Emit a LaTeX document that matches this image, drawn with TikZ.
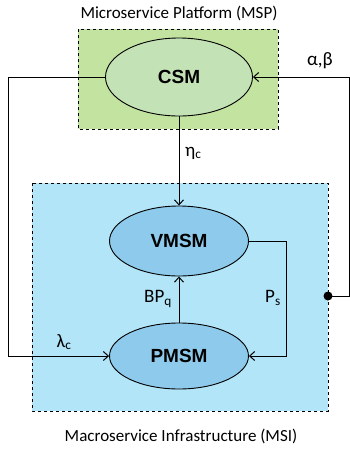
\documentclass[tikz,border=0pt]{standalone}
\usepackage{fontspec}
\setmainfont{Carlito}
\newfontfamily\boldsans{Liberation Sans}
\usetikzlibrary{arrows.meta,shapes.geometric}
\definecolor{mspfill}{HTML}{C3E3A0}
\definecolor{csmfill}{HTML}{C3E2B5}
\definecolor{msifill}{HTML}{B3E5F8}
\definecolor{vmfill}{HTML}{8ECAEB}
\tikzset{
  region/.style={draw=black, dashed, line width=0.7pt},
  statenode/.style={ellipse, draw=black, line width=0.9pt, inner sep=0pt, font=\boldsans\bfseries\fontsize{19}{21}\selectfont},
  link/.style={draw=black, line width=1pt},
  arr/.style={link, -{Straight Barb[length=5pt,width=9pt]}},
  lbl/.style={font=\fontsize{19}{21}\selectfont, inner sep=0pt},
  caption/.style={font=\fontsize{17}{19}\selectfont, inner sep=0pt}
}
\begin{document}
\begin{tikzpicture}[x=1pt,y=-1pt]
\useasboundingbox (0,0) rectangle (350,451);
\fill[white] (0,0) rectangle (350,451);
\node[caption] (msptitle) at (179,13) {Microservice Platform (MSP)};
\node[caption] (msititle) at (181,436) {Macroservice Infrastructure (MSI)};
\filldraw[region, fill=mspfill] (78,29) rectangle (278,129);
\filldraw[region, fill=msifill] (32,183) rectangle (328,411);
\node[statenode, fill=csmfill, minimum width=147pt, minimum height=78pt] (csm) at (179,77) {CSM};
\node[statenode, fill=vmfill, minimum width=139pt, minimum height=70pt] (vmsm) at (179,241) {VMSM};
\node[statenode, fill=vmfill, minimum width=139pt, minimum height=66pt] (pmsm) at (179,356) {PMSM};
% CSM -> VMSM
\draw[arr] (csm.south) -- (vmsm.north);
\node[lbl, anchor=west] (eta) at (185,153) {η\textsubscript{c}};
% PMSM -> VMSM
\draw[arr] (pmsm.north) -- (vmsm.south);
\node[lbl] (bpq) at (158,299) {BP\textsubscript{q}};
% VMSM -> PMSM
\coordinate (ps1) at (286,241);
\coordinate (ps2) at (286,356);
\draw[arr] (vmsm.east) -- (ps1) -- (ps2) -- (pmsm.east);
\node[lbl] (ps) at (273,298) {P\textsubscript{s}};
% CSM -> PMSM
\coordinate (l1) at (8,77);
\coordinate (l2) at (8,356);
\draw[arr] (csm.west) -- (l1) -- (l2) -- (pmsm.west);
\node[lbl] (lam) at (64,342) {λ\textsubscript{c}};
% MSI -> CSM
\coordinate (dot) at (328,296);
\coordinate (r1) at (349,296);
\coordinate (r2) at (349,77);
\draw[arr] (dot) -- (r1) -- (r2) -- (csm.east);
\fill (dot) circle (4.5pt);
\node[lbl] (ab) at (320,61) {α,β};
\end{tikzpicture}
\end{document}
